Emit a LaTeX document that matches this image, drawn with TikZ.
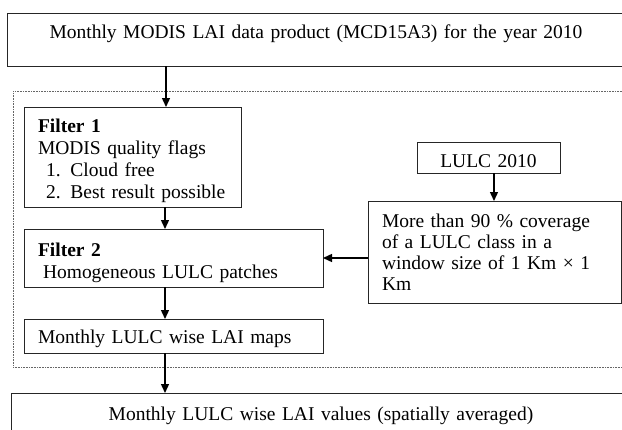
\documentclass[tikz,border=0pt]{standalone}
\usepackage{fontspec}
\setmainfont{Liberation Serif}
\usetikzlibrary{arrows.meta}
\begin{document}
\begin{tikzpicture}[x=1pt,y=-1pt,
  box/.style={draw=black!85, line width=0.9pt, inner xsep=14pt, inner ysep=0pt,
    outer sep=0pt, anchor=north west, font=\fontsize{19.5}{22}\selectfont},
  frame/.style={draw=black!60, line width=0.6pt, dash pattern=on 0.8pt off 0.8pt,
    inner sep=0pt, outer sep=0pt, anchor=north west},
  flow/.style={line width=1.4pt, -{Triangle[width=8pt,length=9pt]}},
]
\useasboundingbox (0,0) rectangle (622,429);
\clip (0,0) rectangle (622,429);
\fill[white] (0,0) rectangle (622,429);

\node[frame, minimum width=617pt, minimum height=276pt] (grp) at (13,91) {};

\node[box, text width=590pt, align=center, text height=25pt, text depth=28pt] (top) at (7,13)
  {Monthly MODIS LAI data product (MCD15A3) for the year 2010};

\node[box, text width=189pt, align=left, text height=25pt, text depth=75pt] (f1) at (24,107)
  {\textbf{Filter 1}\\MODIS quality flags\\\hspace*{8pt}1. Cloud free\\\hspace*{8pt}2. Best result possible};

\node[box, text width=271pt, align=left, text height=27pt, text depth=31pt] (f2) at (24,229)
  {\textbf{Filter 2}\\\hspace*{5pt}Homogeneous LULC patches};

\node[box, text width=271pt, align=left, text height=24pt, text depth=10pt] (maps) at (24,319)
  {Monthly LULC wise LAI maps};

\node[box, inner xsep=0pt, text width=143pt, align=center, text height=25pt, text depth=6pt] (lulc) at (417,142)
  {LULC 2010};

\node[box, text width=225pt, align=left, text height=26pt, text depth=76pt,
  font=\fontsize{19.5}{21.3}\selectfont] (big) at (368,201)
  {More than 90 \% coverage\\of a LULC class in a\\window size of 1 Km × 1\\Km};

\node[box, text width=592pt, align=center, text height=27pt, text depth=40pt] (bottom) at (11,393)
  {Monthly LULC wise LAI values (spatially averaged)};

\coordinate (c1) at (166,0);
\coordinate (c2) at (165,0);
\coordinate (c3) at (494,0);

\draw[flow] (top.south -| c1) -- (f1.north -| c1);
\draw[flow] (f1.south -| c2) -- (f2.north -| c2);
\draw[flow] (f2.south -| c2) -- (maps.north -| c2);
\draw[flow] (maps.south -| c2) -- (bottom.north -| c2);
\draw[flow] (lulc.south -| c3) -- (big.north -| c3);
\draw[flow] (big.west |- f2.east) -- (f2.east);
\end{tikzpicture}
\end{document}
